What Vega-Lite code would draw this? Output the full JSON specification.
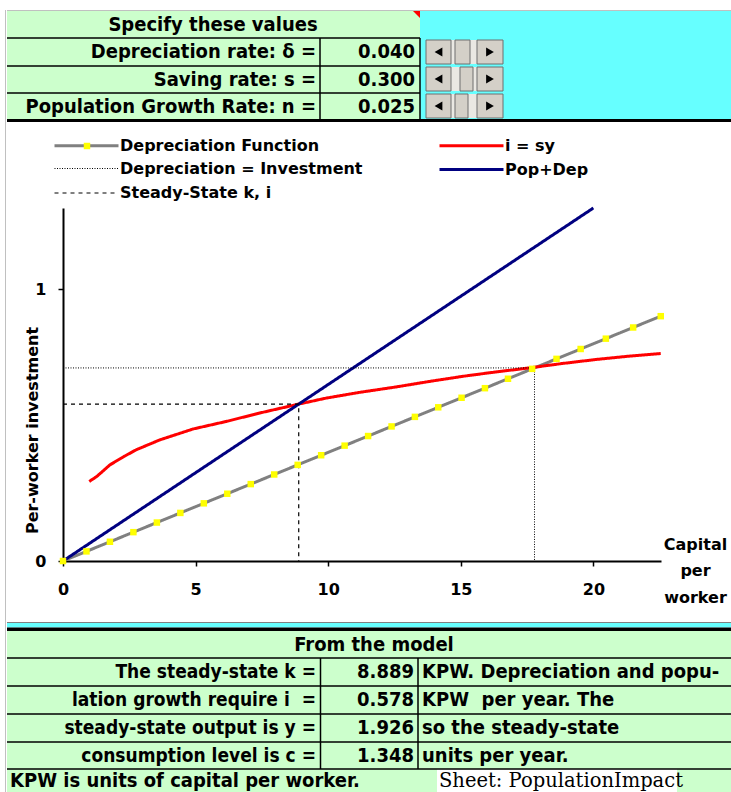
{
  "$schema": "https://vega.github.io/schema/vega-lite/v6.json",
  "background": "white",
  "padding": 0,
  "spacing": 0,
  "bounds": "flush",
  "config": {
    "view": {"stroke": null},
    "text": {"font": "DejaVu Sans Condensed, Liberation Sans Narrow, DejaVu Sans", "fontWeight": "bold", "fontSize": 20, "color": "#000000", "baseline": "middle"}
  },
  "resolve": {"scale": {"x": "independent", "y": "independent", "color": "independent", "fill": "independent", "strokeWidth": "independent", "shape": "independent", "strokeDash": "independent"}},
  "datasets": {
    "topCells": [
      {"x1": 0, "x2": 731, "y1": 0, "y2": 208, "kind": "sheet"},
      {"x1": 7, "x2": 420, "y1": 11, "y2": 120, "kind": "cell"},
      {"x1": 420, "x2": 731, "y1": 11, "y2": 120, "kind": "input area"},
      {"x1": 7, "x2": 731, "y1": 119, "y2": 122, "kind": "border"}
    ],
    "topRules": [
      {"x1": 7, "x2": 731, "y1": 10.5, "y2": 10.5, "kind": "gridline"},
      {"x1": 5.5, "x2": 5.5, "y1": 10, "y2": 792, "kind": "gridline"},
      {"x1": 7, "x2": 420, "y1": 38, "y2": 38, "kind": "border"},
      {"x1": 7, "x2": 420, "y1": 66, "y2": 66, "kind": "border"},
      {"x1": 7, "x2": 420, "y1": 93, "y2": 93, "kind": "border"},
      {"x1": 320, "x2": 320, "y1": 38, "y2": 120, "kind": "border"},
      {"x1": 420, "x2": 420, "y1": 38, "y2": 120, "kind": "border"}
    ],
    "scrollTracks": [
      {"x1": 451, "x2": 477, "y1": 40, "y2": 64},
      {"x1": 451, "x2": 477, "y1": 67, "y2": 91},
      {"x1": 451, "x2": 477, "y1": 94, "y2": 118}
    ],
    "scrollButtons": [
      {"x1": 426, "x2": 451, "y1": 40, "y2": 64},
      {"x1": 455, "x2": 470, "y1": 40, "y2": 64},
      {"x1": 477, "x2": 503, "y1": 40, "y2": 64},
      {"x1": 426, "x2": 451, "y1": 67, "y2": 91},
      {"x1": 460, "x2": 473, "y1": 67, "y2": 91},
      {"x1": 477, "x2": 503, "y1": 67, "y2": 91},
      {"x1": 426, "x2": 451, "y1": 94, "y2": 118},
      {"x1": 455, "x2": 468, "y1": 94, "y2": 118},
      {"x1": 477, "x2": 503, "y1": 94, "y2": 118}
    ],
    "scrollArrows": [
      {"x1": 438.5, "y1": 52, "dir": "left"},
      {"x1": 490, "y1": 52, "dir": "right"},
      {"x1": 438.5, "y1": 79, "dir": "left"},
      {"x1": 490, "y1": 79, "dir": "right"},
      {"x1": 438.5, "y1": 106, "dir": "left"},
      {"x1": 490, "y1": 106, "dir": "right"}
    ],
    "commentMark": [{"x1": 416.5, "y1": 14.5}],
    "topText": [
      {"role": "header", "x1": 213, "y1": 25, "text": "Specify these values"},
      {"role": "label", "x1": 316, "y1": 52, "text": "Depreciation rate: δ ="},
      {"role": "label", "x1": 316, "y1": 79.5, "text": "Saving rate: s ="},
      {"role": "label", "x1": 316, "y1": 106.5, "text": "Population Growth Rate: n ="},
      {"role": "value", "x1": 415, "y1": 52, "text": "0.040"},
      {"role": "value", "x1": 415, "y1": 79.5, "text": "0.300"},
      {"role": "value", "x1": 415, "y1": 106.5, "text": "0.025"}
    ],
    "curves": [
      {"series": "Depreciation Function", "o": 0, "k": 0, "i": 0},
      {"series": "Depreciation Function", "o": 1, "k": 0.885, "i": 0.0354},
      {"series": "Depreciation Function", "o": 2, "k": 1.77, "i": 0.0708},
      {"series": "Depreciation Function", "o": 3, "k": 2.655, "i": 0.1062},
      {"series": "Depreciation Function", "o": 4, "k": 3.54, "i": 0.1416},
      {"series": "Depreciation Function", "o": 5, "k": 4.425, "i": 0.177},
      {"series": "Depreciation Function", "o": 6, "k": 5.31, "i": 0.2124},
      {"series": "Depreciation Function", "o": 7, "k": 6.195, "i": 0.2478},
      {"series": "Depreciation Function", "o": 8, "k": 7.08, "i": 0.2832},
      {"series": "Depreciation Function", "o": 9, "k": 7.965, "i": 0.3186},
      {"series": "Depreciation Function", "o": 10, "k": 8.85, "i": 0.354},
      {"series": "Depreciation Function", "o": 11, "k": 9.735, "i": 0.3894},
      {"series": "Depreciation Function", "o": 12, "k": 10.62, "i": 0.4248},
      {"series": "Depreciation Function", "o": 13, "k": 11.505, "i": 0.4602},
      {"series": "Depreciation Function", "o": 14, "k": 12.39, "i": 0.4956},
      {"series": "Depreciation Function", "o": 15, "k": 13.27, "i": 0.5308},
      {"series": "Depreciation Function", "o": 16, "k": 14.15, "i": 0.566},
      {"series": "Depreciation Function", "o": 17, "k": 15.03, "i": 0.6012},
      {"series": "Depreciation Function", "o": 18, "k": 15.91, "i": 0.6364},
      {"series": "Depreciation Function", "o": 19, "k": 16.78, "i": 0.6712},
      {"series": "Depreciation Function", "o": 20, "k": 17.69, "i": 0.7076},
      {"series": "Depreciation Function", "o": 21, "k": 18.61, "i": 0.7444},
      {"series": "Depreciation Function", "o": 22, "k": 19.52, "i": 0.7808},
      {"series": "Depreciation Function", "o": 23, "k": 20.47, "i": 0.8188},
      {"series": "Depreciation Function", "o": 24, "k": 21.5, "i": 0.86},
      {"series": "Depreciation Function", "o": 25, "k": 22.54, "i": 0.9016},
      {"series": "i = sy", "o": 0, "k": 0.99, "i": 0.293},
      {"series": "i = sy", "o": 1, "k": 1.27, "i": 0.311},
      {"series": "i = sy", "o": 2, "k": 1.77, "i": 0.354},
      {"series": "i = sy", "o": 3, "k": 2.3, "i": 0.385},
      {"series": "i = sy", "o": 4, "k": 2.77, "i": 0.41},
      {"series": "i = sy", "o": 5, "k": 3.65, "i": 0.446},
      {"series": "i = sy", "o": 6, "k": 4.9, "i": 0.486},
      {"series": "i = sy", "o": 7, "k": 6.16, "i": 0.514},
      {"series": "i = sy", "o": 8, "k": 7.42, "i": 0.545},
      {"series": "i = sy", "o": 9, "k": 8.8, "i": 0.576},
      {"series": "i = sy", "o": 10, "k": 9.93, "i": 0.6},
      {"series": "i = sy", "o": 11, "k": 11.18, "i": 0.621},
      {"series": "i = sy", "o": 12, "k": 12.56, "i": 0.641},
      {"series": "i = sy", "o": 13, "k": 13.8, "i": 0.661},
      {"series": "i = sy", "o": 14, "k": 15.07, "i": 0.68},
      {"series": "i = sy", "o": 15, "k": 16.3, "i": 0.696},
      {"series": "i = sy", "o": 16, "k": 17.58, "i": 0.711},
      {"series": "i = sy", "o": 17, "k": 18.8, "i": 0.727},
      {"series": "i = sy", "o": 18, "k": 20.09, "i": 0.742},
      {"series": "i = sy", "o": 19, "k": 21.3, "i": 0.754},
      {"series": "i = sy", "o": 20, "k": 22.54, "i": 0.764},
      {"series": "Pop+Dep", "o": 0, "k": 0, "i": 0},
      {"series": "Pop+Dep", "o": 1, "k": 20.0, "i": 1.3},
      {"series": "Depreciation = Investment", "o": 0, "k": 0, "i": 0.711},
      {"series": "Depreciation = Investment", "o": 1, "k": 17.78, "i": 0.711},
      {"series": "Depreciation = Investment", "o": 2, "k": 17.78, "i": 0},
      {"series": "Steady-State k, i", "o": 0, "k": 0, "i": 0.578},
      {"series": "Steady-State k, i", "o": 1, "k": 8.889, "i": 0.578},
      {"series": "Steady-State k, i", "o": 2, "k": 8.889, "i": 0}
    ],
    "botCells": [
      {"x1": 7, "x2": 731, "y1": 623, "y2": 627.5, "kind": "input area"},
      {"x1": 7, "x2": 731, "y1": 627.5, "y2": 631, "kind": "border"},
      {"x1": 7, "x2": 731, "y1": 631, "y2": 769, "kind": "cell"},
      {"x1": 7, "x2": 437, "y1": 769, "y2": 792, "kind": "cell"},
      {"x1": 437, "x2": 677, "y1": 769, "y2": 792, "kind": "sheet"},
      {"x1": 677, "x2": 731, "y1": 769, "y2": 792, "kind": "cell"}
    ],
    "botRules": [
      {"x1": 7, "x2": 731, "y1": 622.5, "y2": 622.5, "kind": "gridline"},
      {"x1": 7, "x2": 731, "y1": 658, "y2": 658, "kind": "border"},
      {"x1": 7, "x2": 731, "y1": 686, "y2": 686, "kind": "border"},
      {"x1": 7, "x2": 731, "y1": 714, "y2": 714, "kind": "border"},
      {"x1": 7, "x2": 731, "y1": 742, "y2": 742, "kind": "border"},
      {"x1": 7, "x2": 731, "y1": 769, "y2": 769, "kind": "border"},
      {"x1": 320.5, "x2": 320.5, "y1": 658, "y2": 769, "kind": "border"},
      {"x1": 418, "x2": 418, "y1": 658, "y2": 769, "kind": "border"}
    ],
    "botText": [
      {"role": "header", "x1": 374, "y1": 644.5, "text": "From the model"},
      {"role": "label", "x1": 316, "y1": 672, "text": "The steady-state k ="},
      {"role": "label", "x1": 316, "y1": 700, "text": "lation growth require i \u00a0="},
      {"role": "label", "x1": 316, "y1": 728, "text": "steady-state output is y ="},
      {"role": "label", "x1": 316, "y1": 755.5, "text": "consumption level is c ="},
      {"role": "value", "x1": 414, "y1": 672, "text": "8.889"},
      {"role": "value", "x1": 414, "y1": 700, "text": "0.578"},
      {"role": "value", "x1": 414, "y1": 728, "text": "1.926"},
      {"role": "value", "x1": 414, "y1": 755.5, "text": "1.348"},
      {"role": "note", "x1": 422, "y1": 672, "text": "KPW. Depreciation and popu-"},
      {"role": "note", "x1": 422, "y1": 700, "text": "KPW \u00a0per year. The"},
      {"role": "note", "x1": 422, "y1": 728, "text": "so the steady-state"},
      {"role": "note", "x1": 422, "y1": 755.5, "text": "units per year."},
      {"role": "note", "x1": 10, "y1": 781, "text": "KPW is units of capital per worker."},
      {"role": "sheet", "x1": 439, "y1": 781, "text": "Sheet: PopulationImpact"}
    ]
  },
  "vconcat": [
    {
      "width": 598,
      "height": 208,
      "encoding": {
        "x": {"field": "x1", "type": "quantitative", "scale": {"domain": [63, 661], "nice": false, "zero": false}, "axis": null},
        "y": {"field": "y1", "type": "quantitative", "scale": {"domain": [0, 208], "reverse": true, "nice": false, "zero": false}, "axis": null}
      },
      "layer": [
        {"data": {"name": "topCells"}, "mark": {"type": "rect"},
         "encoding": {"x2": {"field": "x2"}, "y2": {"field": "y2"},
           "fill": {"field": "kind", "type": "nominal", "scale": {"domain": ["sheet", "cell", "input area", "border"], "range": ["#FFFFFF", "#CCFFCC", "#66FFFF", "#000000"]}, "legend": null}}},
        {"data": {"name": "topRules"}, "mark": {"type": "rule"},
         "encoding": {"x2": {"field": "x2"}, "y2": {"field": "y2"},
           "color": {"field": "kind", "type": "nominal", "scale": {"domain": ["border", "gridline"], "range": ["#000000", "#C0C0C0"]}, "legend": null},
           "strokeWidth": {"field": "kind", "type": "nominal", "scale": {"type": "ordinal", "domain": ["border", "gridline"], "range": [1.5, 1]}, "legend": null}}},
        {"data": {"name": "scrollTracks"}, "mark": {"type": "rect", "fill": "#EAE8E3"},
         "encoding": {"x2": {"field": "x2"}, "y2": {"field": "y2"}}},
        {"data": {"name": "scrollButtons"}, "mark": {"type": "rect", "fill": "#D4D0C8", "stroke": "#6E6E6E", "strokeWidth": 1},
         "encoding": {"x2": {"field": "x2"}, "y2": {"field": "y2"}}},
        {"data": {"name": "scrollArrows"}, "mark": {"type": "point", "filled": true, "color": "#000000", "size": 80, "opacity": 1},
         "encoding": {"shape": {"field": "dir", "type": "nominal", "scale": {"domain": ["left", "right"], "range": ["triangle-left", "triangle-right"]}, "legend": null}}},
        {"data": {"name": "commentMark"}, "mark": {"type": "point", "filled": true, "color": "#FF0000", "shape": "M -1 -1 L 1 -1 L 1 1 Z", "size": 49, "opacity": 1}},
        {"data": {"name": "topText"}, "transform": [{"filter": "datum.role === 'header'"}], "mark": {"type": "text", "align": "center"}, "encoding": {"text": {"field": "text"}}},
        {"data": {"name": "topText"}, "transform": [{"filter": "datum.role !== 'header'"}], "mark": {"type": "text", "align": "right"}, "encoding": {"text": {"field": "text"}}}
      ]
    },
    {
      "width": 598,
      "height": 353,
      "layer": [
        {"data": {"name": "curves"}, "mark": {"type": "line", "strokeCap": "butt"},
         "encoding": {
           "x": {"field": "k", "type": "quantitative", "scale": {"domain": [0, 22.55], "nice": false, "zero": false},
             "axis": {"values": [0, 5, 10, 15, 20], "format": "d", "grid": false, "tickSize": 5, "tickWidth": 1.5, "tickColor": "#000000", "domainColor": "#000000", "domainWidth": 2,
               "labelPadding": 15, "labelFont": "DejaVu Sans", "labelFontWeight": "bold", "labelFontSize": 16, "labelColor": "#000000", "labelFlush": false, "labelOverlap": false,
               "title": ["Capital", "per", "worker"], "titleX": 632, "titleY": -25, "titleAlign": "center", "titleBaseline": "top", "titleLineHeight": 26.5,
               "titleFont": "DejaVu Sans", "titleFontWeight": "bold", "titleFontSize": 16, "titleColor": "#000000"}},
           "y": {"field": "i", "type": "quantitative", "scale": {"domain": [0, 1.3], "nice": false, "zero": false},
             "axis": {"values": [0, 1], "format": "d", "grid": false, "tickSize": 5, "tickWidth": 1.5, "tickColor": "#000000", "domainColor": "#000000", "domainWidth": 2,
               "labelPadding": 12, "labelFont": "DejaVu Sans", "labelFontWeight": "bold", "labelFontSize": 16, "labelColor": "#000000",
               "title": "Per-worker investment", "titleX": -31, "titleY": 222, "titleAngle": -90, "titleAlign": "center", "titleBaseline": "middle",
               "titleFont": "DejaVu Sans", "titleFontWeight": "bold", "titleFontSize": 16, "titleColor": "#000000"}},
           "color": {"field": "series", "type": "nominal",
             "scale": {"domain": ["Depreciation Function", "Depreciation = Investment", "Steady-State k, i", "i = sy", "Pop+Dep"], "range": ["#808080", "#000000", "#000000", "#FF0000", "#000080"]},
             "legend": {"orient": "none", "legendX": 14, "legendY": -72, "title": null, "columns": 2, "symbolType": "M -4 0 L 4 0", "symbolSize": 256, "labelOffset": 24,
               "labelFont": "DejaVu Sans", "labelFontWeight": "bold", "labelFontSize": 16, "labelColor": "#000000", "labelLimit": 400, "columnPadding": 70, "rowPadding": 6}},
           "strokeDash": {"field": "series", "type": "nominal",
             "scale": {"domain": ["Depreciation Function", "Depreciation = Investment", "Steady-State k, i", "i = sy", "Pop+Dep"], "range": [[1, 0], [1, 1.5], [4, 4], [1, 0], [1, 0]]}},
           "strokeWidth": {"field": "series", "type": "nominal",
             "scale": {"type": "ordinal", "domain": ["Depreciation Function", "Depreciation = Investment", "Steady-State k, i", "i = sy", "Pop+Dep"], "range": [3, 1, 1.2, 3, 3]}},
           "order": {"field": "o", "type": "quantitative"}
         }},
        {"data": {"name": "curves"}, "transform": [{"filter": "datum.series === 'Depreciation Function'"}],
         "mark": {"type": "point", "shape": "square", "filled": true, "size": 42, "opacity": 1, "strokeWidth": 0},
         "encoding": {
           "x": {"field": "k", "type": "quantitative"},
           "y": {"field": "i", "type": "quantitative"},
           "fill": {"datum": "Depreciation Function", "type": "nominal", "scale": {"range": ["#FFFF00"]},
             "legend": {"orient": "none", "legendX": 19, "legendY": -67, "title": null, "labelExpr": "''", "symbolType": "square", "symbolSize": 42, "symbolStrokeWidth": 0}}
         }}
      ]
    },
    {
      "width": 598,
      "height": 231,
      "encoding": {
        "x": {"field": "x1", "type": "quantitative", "scale": {"domain": [63, 661], "nice": false, "zero": false}, "axis": null},
        "y": {"field": "y1", "type": "quantitative", "scale": {"domain": [561, 792], "reverse": true, "nice": false, "zero": false}, "axis": null}
      },
      "layer": [
        {"data": {"name": "botCells"}, "mark": {"type": "rect"},
         "encoding": {"x2": {"field": "x2"}, "y2": {"field": "y2"},
           "fill": {"field": "kind", "type": "nominal", "scale": {"domain": ["sheet", "cell", "input area", "border"], "range": ["#FFFFFF", "#CCFFCC", "#66FFFF", "#000000"]}, "legend": null}}},
        {"data": {"name": "botRules"}, "mark": {"type": "rule"},
         "encoding": {"x2": {"field": "x2"}, "y2": {"field": "y2"},
           "color": {"field": "kind", "type": "nominal", "scale": {"domain": ["border", "gridline"], "range": ["#000000", "#808080"]}, "legend": null},
           "strokeWidth": {"field": "kind", "type": "nominal", "scale": {"type": "ordinal", "domain": ["border", "gridline"], "range": [1.5, 1]}, "legend": null}}},
        {"data": {"name": "botText"}, "transform": [{"filter": "datum.role === 'header'"}], "mark": {"type": "text", "align": "center"}, "encoding": {"text": {"field": "text"}}},
        {"data": {"name": "botText"}, "transform": [{"filter": "datum.role === 'label'"}], "mark": {"type": "text", "align": "right", "fontSize": 19}, "encoding": {"text": {"field": "text"}}},
        {"data": {"name": "botText"}, "transform": [{"filter": "datum.role === 'value'"}], "mark": {"type": "text", "align": "right"}, "encoding": {"text": {"field": "text"}}},
        {"data": {"name": "botText"}, "transform": [{"filter": "datum.role === 'note'"}], "mark": {"type": "text", "align": "left"}, "encoding": {"text": {"field": "text"}}},
        {"data": {"name": "botText"}, "transform": [{"filter": "datum.role === 'sheet'"}], "mark": {"type": "text", "align": "left", "font": "DejaVu Serif", "fontWeight": "normal", "fontSize": 19.5}, "encoding": {"text": {"field": "text"}}}
      ]
    }
  ]
}
